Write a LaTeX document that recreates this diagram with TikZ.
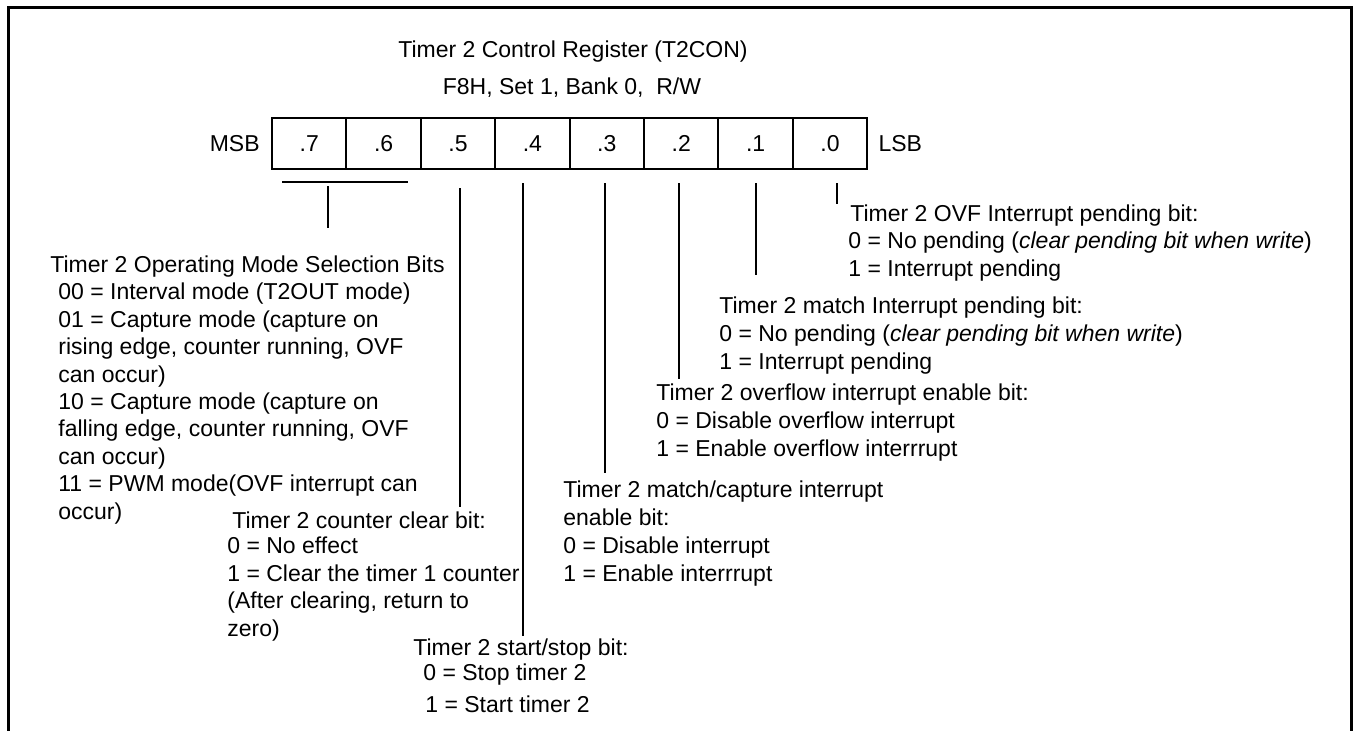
\documentclass[tikz,border=0pt]{standalone}
\usepackage{fontspec}
\setmainfont{Liberation Sans}
\usetikzlibrary{positioning,calc}
\tikzset{
  regcell/.style={draw, line width=1pt, minimum width=37.2pt, minimum height=25.8pt, inner sep=0pt, outer sep=0pt},
  bitline/.style={line width=1pt},
  bitnote/.style={anchor=north west, inner sep=0pt, align=left},
}

\begin{document}
\begin{tikzpicture}[
  x=0.5pt, y=-0.5pt,
  font=\fontsize{11.5}{13.7}\selectfont,
  lbl/.style={inner sep=0pt},
]
  \useasboundingbox (0,0) rectangle (1355,731);
  \draw[line width=1.5pt] (8.7,731) -- (8.7,7.5) -- (1351.5,7.5) -- (1351.5,731);

  \node[lbl] (title) at (573,52) {Timer 2 Control Register (T2CON)};
  \node[lbl] (subtitle) at (572,88) {F8H, Set 1, Bank 0, \ R/W};

  \node[regcell] (b7) at (309.2,143.5) {.7};
  \foreach \i/\j in {6/7,5/6,4/5,3/4,2/3,1/2,0/1}
    \node[regcell, right=0pt of b\j] (b\i) {.\i};
  \node[lbl, left=6pt of b7] (msb) {MSB};
  \node[lbl, right=5.5pt of b0] (lsb) {LSB};

  \node[bitnote] (modes) at (50,255.5) {Timer 2 Operating Mode Selection Bits\\
    \hspace*{4pt}00 = Interval mode (T2OUT mode)\\
    \hspace*{4pt}01 = Capture mode (capture on\\
    \hspace*{4pt}rising edge, counter running, OVF\\
    \hspace*{4pt}can occur)\\
    \hspace*{4pt}10 = Capture mode (capture on\\
    \hspace*{4pt}falling edge, counter running, OVF\\
    \hspace*{4pt}can occur)\\
    \hspace*{4pt}11 = PWM mode(OVF interrupt can\\
    \hspace*{4pt}occur)};
  \node[bitnote] (clr) at (227,511.5) {\hspace*{2.5pt}Timer 2 counter clear bit:\\[-1pt]
    0 = No effect\\
    1 = Clear the timer 1 counter\\
    (After clearing, return to\\
    zero)};
  \node[bitnote] (run) at (413,638.5) {Timer 2 start/stop bit:\\[-1.2pt]
    \hspace*{5pt}0 = Stop timer 2\\[2.3pt]
    \hspace*{6pt}1 = Start timer 2};
  \node[bitnote] (capie) at (563,480.5) {Timer 2 match/capture interrupt\\[0.3pt]
    enable bit:\\[0.3pt]
    0 = Disable interrupt\\[0.3pt]
    1 = Enable interrrupt};
  \node[bitnote] (ovfie) at (656,383.5) {Timer 2 overflow interrupt enable bit:\\[0.3pt]
    0 = Disable overflow interrupt\\[0.3pt]
    1 = Enable overflow interrrupt};
  \node[bitnote] (matpnd) at (719,296.5) {Timer 2 match Interrupt pending bit:\\[0.3pt]
    0 = No pending (\textit{clear pending bit when write})\\[0.3pt]
    1 = Interrupt pending};
  \node[bitnote] (ovfpnd) at (848,204.5) {\hspace*{1pt}Timer 2 OVF Interrupt pending bit:\\
    0 = No pending (\textit{clear pending bit when write})\\
    1 = Interrupt pending};

  \coordinate (brl) at ($(b7.south west)+(10,13)$);
  \coordinate (brr) at ($(b6.south east)+(-13,13)$);
  \coordinate (brtop) at ($(b7.south)+(19,17)$);
  \coordinate (brend) at ($(b7.south)+(19,59)$);
  \coordinate (pnd1) at ($(b1.south)+(0,106)$);

  \draw[bitline] (brl) -- (brr);
  \draw[bitline] (brtop) -- (brend);
  \draw[bitline] ($(b5.south)+(2,19)$) -- ($(b5.south |- clr.north)+(2,-4)$);
  \draw[bitline] ($(b4.south)+(-9,14)$) -- ($(b4.south |- run.north)+(-9,-2)$);
  \draw[bitline] ($(b3.south)+(-2,14)$) -- ($(b3.south |- capie.north)+(-2,-7)$);
  \draw[bitline] ($(b2.south)+(-2,14)$) -- ($(b2.south |- ovfie.north)+(-2,-4)$);
  \draw[bitline] ($(b1.south)+(0,14)$) -- (pnd1);
  \draw[bitline] ($(b0.south)+(7,14)$) -- ($(b0.south |- ovfpnd.north)+(7,0)$);
\end{tikzpicture}
\end{document}
